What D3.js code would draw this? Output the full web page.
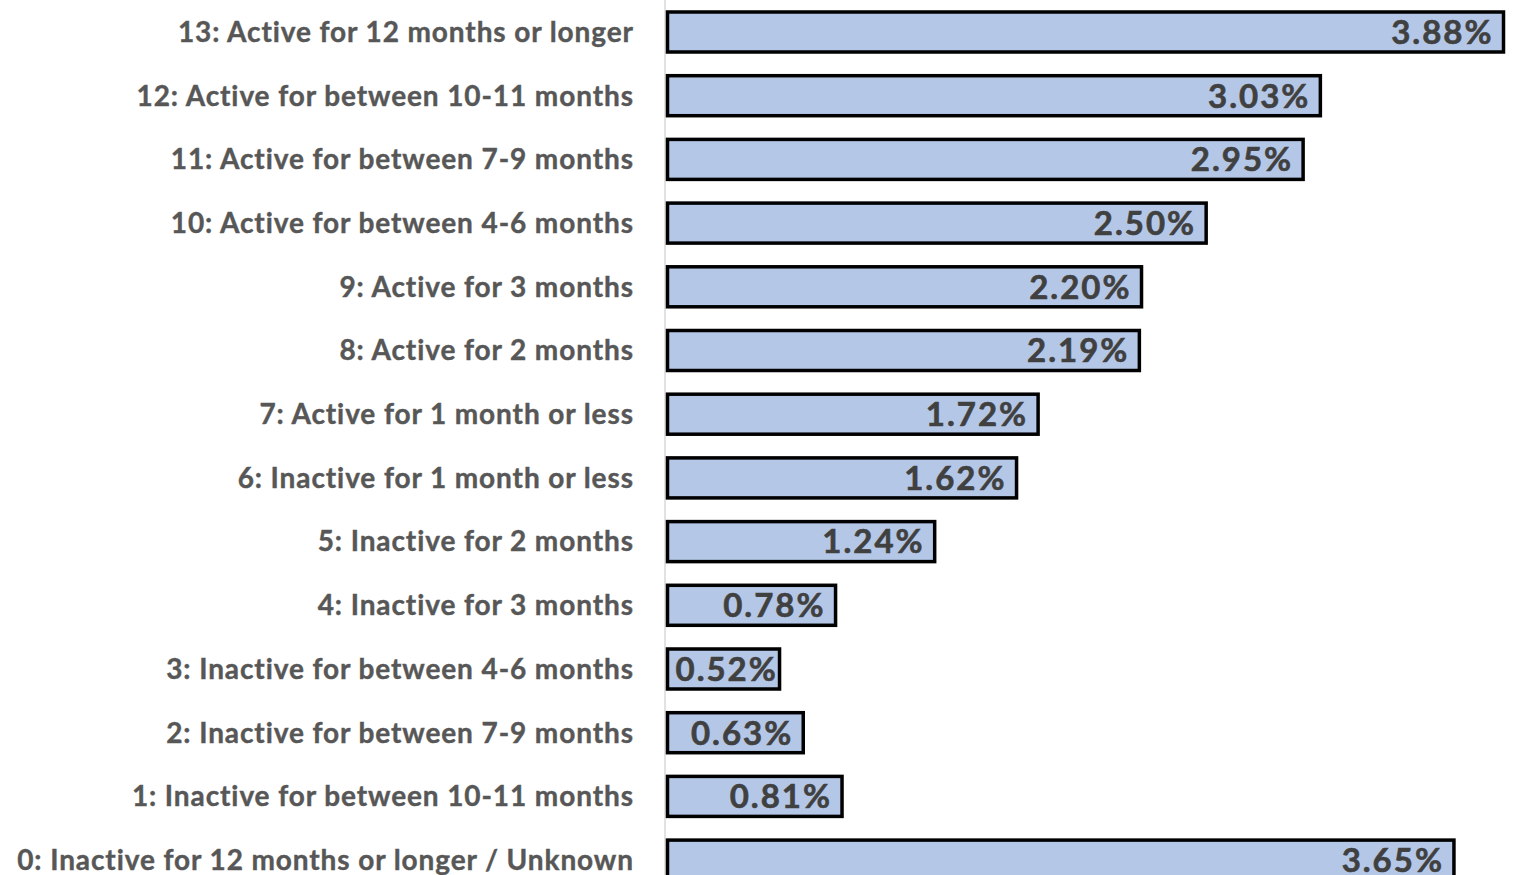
<!DOCTYPE html>
<html>
<head>
<meta charset="utf-8">
<script src="https://cdn.jsdelivr.net/npm/d3@7"></script>
<style>
  html, body { margin: 0; padding: 0; background: #ffffff; overflow: hidden; }
  svg { display: block; }
</style>
</head>
<body>
<svg id="chart" width="1519" height="875"></svg>
<script>
// Engagement segments, top to bottom as drawn
const categories = [
  "13: Active for 12 months or longer",
  "12: Active for between 10-11 months",
  "11: Active for between 7-9 months",
  "10: Active for between 4-6 months",
  "9: Active for 3 months",
  "8: Active for 2 months",
  "7: Active for 1 month or less",
  "6: Inactive for 1 month or less",
  "5: Inactive for 2 months",
  "4: Inactive for 3 months",
  "3: Inactive for between 4-6 months",
  "2: Inactive for between 7-9 months",
  "1: Inactive for between 10-11 months",
  "0: Inactive for 12 months or longer / Unknown"
];
const values = [3.88, 3.03, 2.95, 2.50, 2.20, 2.19, 1.72, 1.62, 1.24, 0.78, 0.52, 0.63, 0.81, 3.65];

const data = categories.map((c, i) => ({ category: c, value: values[i] }));

const svg = d3.select("#chart");
const xStart = 667.5;
const rowStep = 63.7;
const yTop = 32 - rowStep / 2;

const x = d3.scaleLinear().domain([0, 3.88]).range([xStart, 1503.5]);
const y = d3.scaleBand()
  .domain(categories)
  .range([yTop, yTop + rowStep * categories.length])
  .paddingInner(0.372)
  .paddingOuter(0.186);

// Vertical category axis line
svg.append("line")
  .attr("x1", 665).attr("x2", 665)
  .attr("y1", 0).attr("y2", 875)
  .attr("stroke", "#d9d9d9")
  .attr("stroke-width", 1.5);

// Bars
svg.append("g").selectAll("rect")
  .data(data)
  .join("rect")
  .attr("x", x(0))
  .attr("y", d => y(d.category))
  .attr("width", d => x(d.value) - x(0))
  .attr("height", y.bandwidth())
  .attr("fill", "#b4c7e7")
  .attr("stroke", "#000000")
  .attr("stroke-width", 3.5);

// Category labels
const labelSpacing = 0.9;
svg.append("g").selectAll("text")
  .data(data)
  .join("text")
  .attr("x", 633 + labelSpacing)
  .attr("y", d => y(d.category) + y.bandwidth() / 2)
  .attr("dy", "0.35em")
  .attr("text-anchor", "end")
  .attr("font-family", "Lato, 'Open Sans', sans-serif")
  .attr("font-weight", 700)
  .attr("font-size", 28)
  .attr("letter-spacing", labelSpacing)
  .attr("fill", "#575757")
  .attr("stroke", "#575757")
  .attr("stroke-width", 0.4)
  .text(d => d.category);

// Value labels inside the bar ends; short bars keep the label
// starting just inside the bar's left edge
const valueSpacing = 2;
const valueLabels = svg.append("g").selectAll("text")
  .data(data)
  .join("text")
  .attr("y", d => y(d.category) + y.bandwidth() / 2)
  .attr("dy", "0.36em")
  .attr("text-anchor", "end")
  .attr("font-family", "Lato, 'Open Sans', sans-serif")
  .attr("font-weight", 700)
  .attr("font-size", 33)
  .attr("letter-spacing", valueSpacing)
  .attr("fill", "#404040")
  .attr("stroke", "#404040")
  .attr("stroke-width", 0.6)
  .text(d => d.value.toFixed(2) + "%");

valueLabels.attr("x", function(d) {
  const w = this.getComputedTextLength();
  return Math.max(x(d.value) - 12, x(0) + 8 + w - valueSpacing) + valueSpacing;
});
</script>
</body>
</html>
